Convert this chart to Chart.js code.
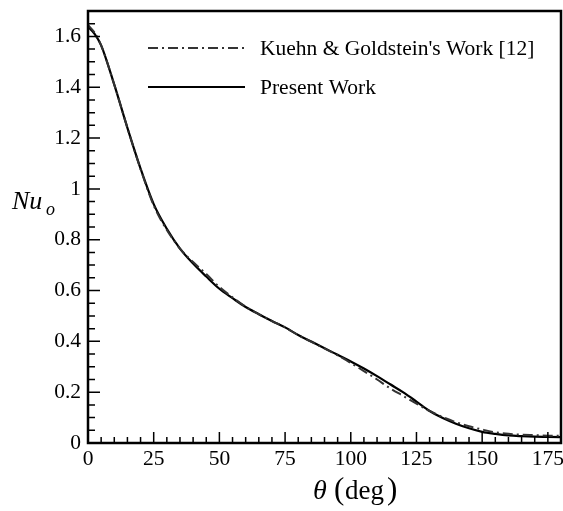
<!DOCTYPE html>
<html>
<head>
<meta charset="utf-8">
<script src="https://cdn.jsdelivr.net/npm/chart.js@4.4.1/dist/chart.umd.min.js"></script>
<style>
    html, body { margin: 0; padding: 0; background: #fff; }
    #wrap { width: 563px; height: 511px; position: relative; }
</style>
</head>
<body>
<div id="wrap"><canvas id="nuChart"></canvas></div>
<script>
// Winkel theta (deg)
var winkel      = [0, 2.5, 5, 10, 15, 20, 25, 30, 35, 40, 45, 50, 55, 60, 65, 70, 75, 80, 85, 90, 95, 100, 105, 110, 115, 120, 125, 130, 135, 140, 145, 150, 155, 160, 165, 170, 175, 180];
// Kuehn & Goldstein [12]
var nuKuehn     = [1.645, 1.615, 1.565, 1.41, 1.24, 1.078, 0.935, 0.838, 0.765, 0.712, 0.665, 0.614, 0.573, 0.536, 0.507, 0.48, 0.455, 0.425, 0.398, 0.372, 0.345, 0.315, 0.283, 0.25, 0.215, 0.185, 0.155, 0.126, 0.102, 0.082, 0.066, 0.053, 0.042, 0.036, 0.033, 0.031, 0.029, 0.028];
// Present Work
var nuPresent   = [1.638, 1.61, 1.565, 1.41, 1.24, 1.08, 0.94, 0.843, 0.765, 0.706, 0.655, 0.607, 0.57, 0.535, 0.507, 0.48, 0.455, 0.425, 0.399, 0.373, 0.347, 0.321, 0.293, 0.263, 0.231, 0.199, 0.163, 0.126, 0.098, 0.076, 0.058, 0.044, 0.036, 0.030, 0.027, 0.025, 0.024, 0.023];

var xTicks = [0, 25, 50, 75, 100, 125, 150, 175];
var yTicks = [0, 0.2, 0.4, 0.6, 0.8, 1, 1.2, 1.4, 1.6];
var serien = ["Kuehn & Goldstein's Work [12]", 'Present Work'];

var schrift = '"Liberation Serif", serif';
Chart.defaults.font.family = schrift;
Chart.defaults.color = '#000';

function punkte(ys) {
    return winkel.map(function(w, i) { return { x: w, y: ys[i] }; });
}

// Rahmen, Ticks nach innen, Legende, Achsentitel
var rahmenPlugin = {
    id: 'rahmen',
    afterDraw: function(chart) {
        var ctx = chart.ctx, a = chart.chartArea;
        var sx = chart.scales.x, sy = chart.scales.y;
        ctx.save();
        ctx.strokeStyle = '#000';

        // kleine und grosse Ticks
        ctx.lineWidth = 1.5;
        ctx.beginPath();
        for (var v = 0; v <= 180; v += 5) {
            var px = sx.getPixelForValue(v);
            var len = (v % 25 === 0) ? 11 : 6;
            ctx.moveTo(px, a.bottom); ctx.lineTo(px, a.bottom - len);
        }
        for (var k = 0; k <= 34; k++) {
            var py = sy.getPixelForValue(k * 0.05);
            var l2 = (k % 4 === 0) ? 12 : 7;
            ctx.moveTo(a.left, py); ctx.lineTo(a.left + l2, py);
        }
        ctx.stroke();

        ctx.lineWidth = 2.5;
        ctx.strokeRect(a.left, a.top, a.right - a.left, a.bottom - a.top);

        // Legende
        var ds = chart.data.datasets;
        var ly = [48, 87];
        ctx.font = '21.5px ' + schrift;
        ctx.textBaseline = 'alphabetic';
        ctx.fillStyle = '#000';
        for (var i = 0; i < ds.length; i++) {
            ctx.beginPath();
            ctx.lineWidth = ds[i].borderWidth;
            ctx.strokeStyle = ds[i].borderColor;
            ctx.setLineDash(ds[i].borderDash || []);
            ctx.moveTo(148, ly[i]); ctx.lineTo(245, ly[i]);
            ctx.stroke();
            ctx.setLineDash([]);
            ctx.fillText(ds[i].label, 260, ly[i] + 7);
        }

        // y-Titel Nu_o
        ctx.font = 'italic 26px ' + schrift;
        ctx.fillText('Nu', 12, 209);
        ctx.font = 'italic 18px ' + schrift;
        ctx.fillText('o', 46, 215);

        // x-Titel theta (deg)
        ctx.font = 'italic 28px ' + schrift;
        ctx.fillText('\u03B8', 313, 499);
        ctx.font = '31px ' + schrift;
        ctx.fillText('(', 334, 499);
        ctx.font = '27px ' + schrift;
        ctx.fillText('deg', 345, 499);
        ctx.font = '31px ' + schrift;
        ctx.fillText(')', 387, 499);
        ctx.restore();
    }
};

var nuChart = new Chart(document.getElementById('nuChart').getContext('2d'), {
    type: 'line',
    data: {
        datasets: [
            { label: serien[0], data: punkte(nuKuehn), borderColor: '#333', borderWidth: 2, borderDash: [10, 4, 2, 4], pointRadius: 0, cubicInterpolationMode: 'monotone', fill: false },
            { label: serien[1], data: punkte(nuPresent), borderColor: '#000', borderWidth: 2.2, pointRadius: 0, cubicInterpolationMode: 'monotone', fill: false }
        ]
    },
    options: {
        responsive: true, maintainAspectRatio: false, animation: false,
        layout: { padding: { top: 11, right: 2, left: 0, bottom: 0 } },
        plugins: { legend: { display: false }, tooltip: { enabled: false } },
        scales: {
            x: {
                type: 'linear', min: 0, max: 180,
                grid: { display: false, drawTicks: false },
                border: { display: false },
                afterBuildTicks: function(s) { s.ticks = xTicks.map(function(v) { return { value: v }; }); },
                afterFit: function(s) { s.height = 68; s.paddingLeft = 0; s.paddingRight = 0; },
                ticks: { font: { size: 21.5 }, padding: 3, maxRotation: 0, autoSkip: false,
                    callback: function(v) { return String(v); } }
            },
            y: {
                type: 'linear', min: 0, max: 1.7,
                grid: { display: false, drawTicks: false },
                border: { display: false },
                afterBuildTicks: function(s) { s.ticks = yTicks.map(function(v) { return { value: v }; }); },
                afterFit: function(s) { s.width = 88; s.paddingTop = 0; s.paddingBottom = 0; },
                ticks: { font: { size: 21.5 }, padding: 7, autoSkip: false,
                    callback: function(v) { return String(Math.round(v * 10) / 10); } }
            }
        }
    },
    plugins: [rahmenPlugin]
});
</script>
</body>
</html>
